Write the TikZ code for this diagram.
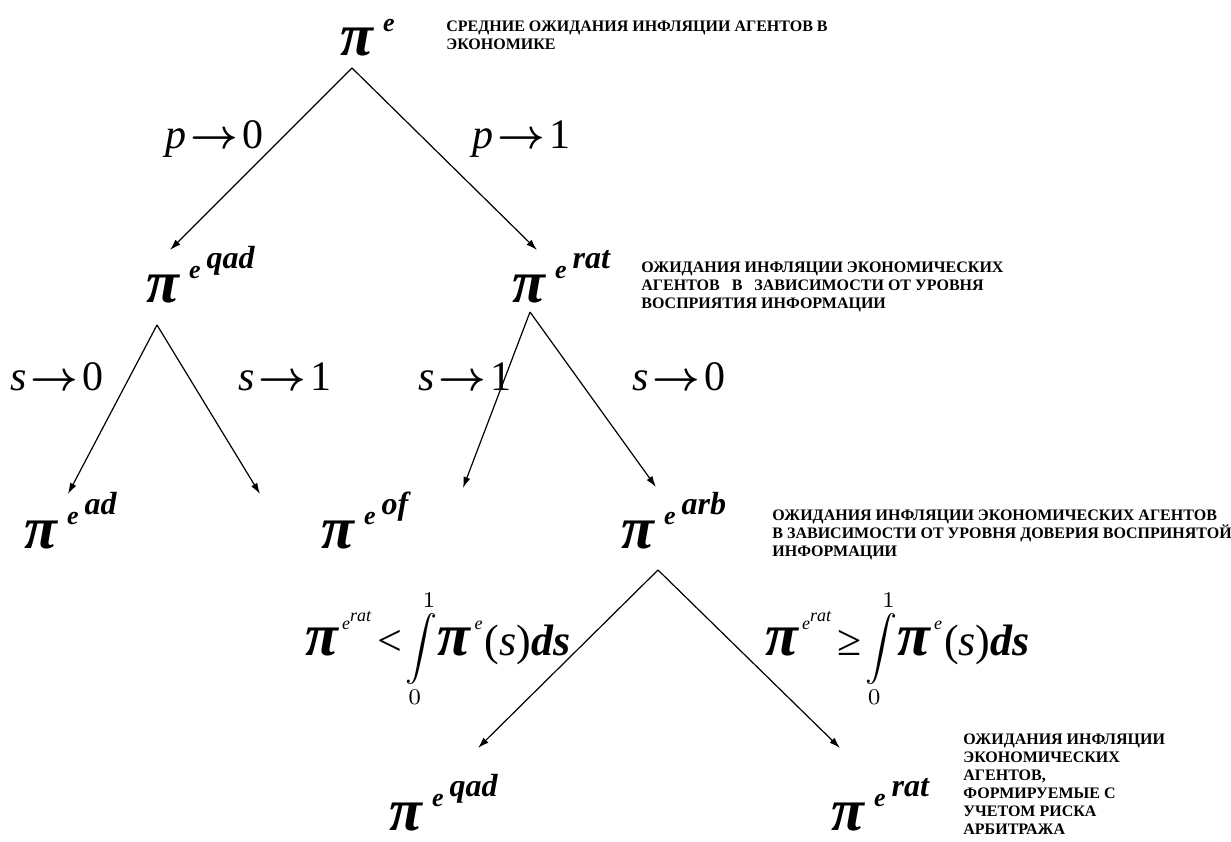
\documentclass[tikz,border=0pt]{standalone}
\usepackage{amsmath}
\usepackage{graphicx}
\usepackage{fontspec}
\setmainfont{Liberation Serif}
\usepackage{tikz}
\usetikzlibrary{arrows.meta}

\newcommand{\pibig}{{\fontsize{30}{30}\selectfont\bfseries\itshape π}}
\newcommand{\piexp}[1]{\pibig\hspace{5pt}\raisebox{12pt}{\fontsize{13}{13}\selectfont\bfseries\itshape e\hspace{3pt}\raisebox{5pt}{\fontsize{16}{16}\selectfont #1}}}
\newcommand{\tendsto}{\hspace{2pt}$\boldsymbol{\rightarrow}$\hspace{2pt}}
\newcommand{\intcond}[1]{\pibig\hspace{2pt}\raisebox{13pt}{\fontsize{9}{9}\selectfont\itshape e\raisebox{4pt}{rat}}\hspace{3pt}{\fontsize{22}{22}\selectfont #1}\hspace{2pt}\raisebox{-1pt}{\scalebox{1.6}{$\displaystyle\int\limits_0^1$}}\hspace{0pt}\pibig\hspace{2pt}\raisebox{13pt}{\fontsize{9}{9}\selectfont\itshape e}\hspace{1pt}{\fontsize{22}{22}\selectfont(\textit{s})\textbf{\textit{ds}}}}

\begin{document}
\begin{tikzpicture}[x=0.5pt, y=-0.5pt,
  term/.style = {anchor=base west, inner sep=0pt},
  cond/.style = {anchor=base west, inner sep=0pt, font=\fontsize{21}{21}\selectfont},
  note/.style = {anchor=north west, inner sep=0pt, align=left,
                 font=\fontsize{8}{9}\selectfont\bfseries},
  arr/.style  = {-{Latex[length=5.5pt,width=3.5pt]}, line width=0.6pt}
]
\useasboundingbox (0,0) rectangle (1231,841);

% --- niveau 1 : attentes moyennes ---
\node[term] (pe) at (340,55) {\piexp{}};
\node[note] (pe-note) at (446,21) {СРЕДНИЕ ОЖИДАНИЯ ИНФЛЯЦИИ АГЕНТОВ В\\ЭКОНОМИКЕ};
\coordinate (pe-s) at (352,68);

% --- niveau 2 : p -> 0 / p -> 1 ---
\node[term] (qadL) at (146,302) {\piexp{qad}};
\node[term] (ratR) at (512,302) {\piexp{rat}};
\coordinate (qadL-n) at (170,250);
\coordinate (ratR-n) at (537,250);
\draw[arr] (pe-s) -- (qadL-n);
\draw[arr] (pe-s) -- (ratR-n);
\node[cond] (p0) at (165,148) {\textit{p}\tendsto 0};
\node[cond] (p1) at (472,148) {\textit{p}\tendsto 1};
\node[note] (ratR-note) at (641,261) {ОЖИДАНИЯ ИНФЛЯЦИИ ЭКОНОМИЧЕСКИХ\\АГЕНТОВ\ \ \ В\ \ \ ЗАВИСИМОСТИ ОТ УРОВНЯ\\ВОСПРИЯТИЯ ИНФОРМАЦИИ};

% --- niveau 3 : s -> 0 / s -> 1 ---
\coordinate (qadL-s) at (157,325);
\coordinate (ratR-s) at (530,312);
\coordinate (ad-n) at (68,494);
\coordinate (void-n) at (260,494);
\coordinate (of-n) at (463,488);
\coordinate (arb-n) at (656,487);
\draw[arr] (qadL-s) -- (ad-n);
\draw[arr] (qadL-s) -- (void-n);
\draw[arr] (ratR-s) -- (of-n);
\draw[arr] (ratR-s) -- (arb-n);
\node[cond] (s0L) at (10,390) {\textit{s}\tendsto 0};
\node[cond] (s1L) at (238,390) {\textit{s}\tendsto 1};
\node[cond] (s1R) at (418,390) {\textit{s}\tendsto 1};
\node[cond] (s0R) at (632,390) {\textit{s}\tendsto 0};
\node[term] (ad) at (24,548) {\piexp{ad}};
\node[term] (of) at (321,548) {\piexp{of}};
\node[term] (arb) at (621,548) {\piexp{arb}};
\node[note] (arb-note) at (772,509) {ОЖИДАНИЯ ИНФЛЯЦИИ ЭКОНОМИЧЕСКИХ АГЕНТОВ\\В ЗАВИСИМОСТИ ОТ УРОВНЯ ДОВЕРИЯ ВОСПРИНЯТОЙ\\ИНФОРМАЦИИ};

% --- niveau 4 : risque d'arbitrage ---
\coordinate (arb-s) at (658,570);
\coordinate (qadB-n) at (478,748);
\coordinate (ratB-n) at (840,748);
\draw[arr] (arb-s) -- (qadB-n);
\draw[arr] (arb-s) -- (ratB-n);
\node[term] (ltL) at (305,655) {\intcond{<}};
\node[term] (geR) at (765,655) {\intcond{≥}};
\node[term] (qadB) at (389,830) {\piexp{qad}};
\node[term] (ratB) at (831,830) {\piexp{rat}};
\node[note] (ratB-note) at (963,733) {ОЖИДАНИЯ ИНФЛЯЦИИ\\ЭКОНОМИЧЕСКИХ\\АГЕНТОВ,\\ФОРМИРУЕМЫЕ С\\УЧЕТОМ РИСКА\\АРБИТРАЖА};
\end{tikzpicture}
\end{document}
